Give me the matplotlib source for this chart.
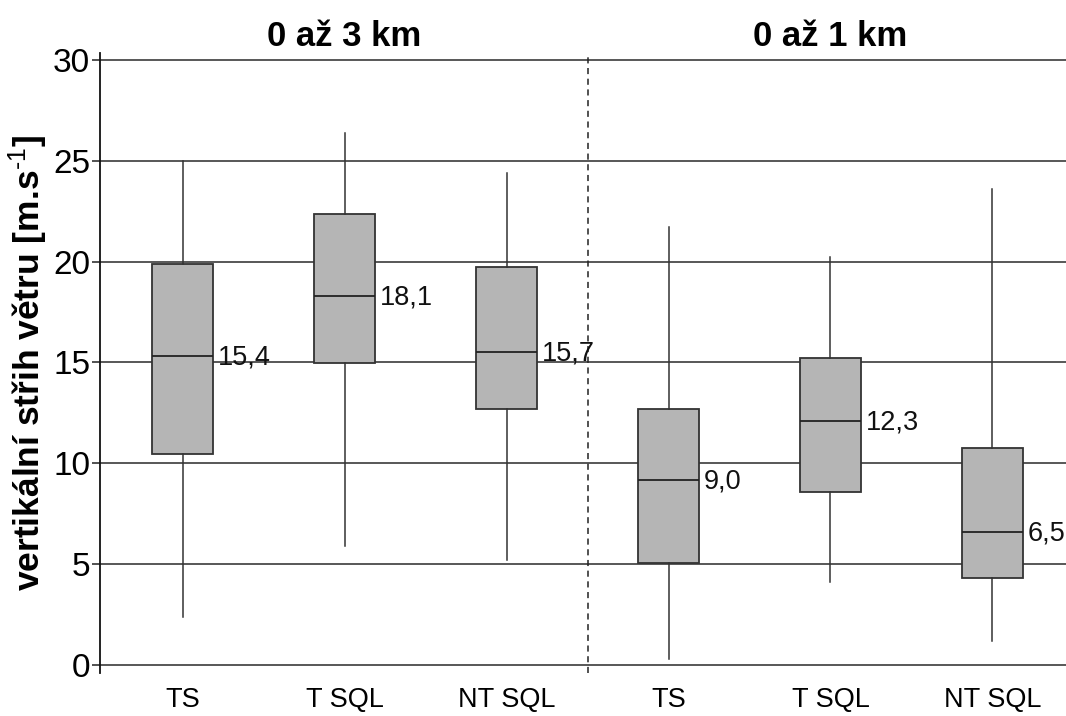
import matplotlib
matplotlib.use("Agg")
import matplotlib.pyplot as plt

# ---- data ----
categories = ["TS", "T SQL", "NT SQL", "TS", "T SQL", "NT SQL"]
whisker_low = [2.4, 5.9, 5.2, 0.3, 4.1, 1.2]
q1 = [10.45, 14.97, 12.7, 5.04, 8.6, 4.3]
median = [15.3, 18.3, 15.5, 9.16, 12.1, 6.58]
q3 = [19.9, 22.35, 19.75, 12.68, 15.2, 10.77]
whisker_high = [25.0, 26.4, 24.4, 21.7, 20.25, 23.6]
median_labels = ["15,4", "18,1", "15,7", "9,0", "12,3", "6,5"]
group_titles = ["0 až 3 km", "0 až 1 km"]
yticks = [0, 5, 10, 15, 20, 25, 30]

plt.rcParams['font.family'] = ['Liberation Sans', 'DejaVu Sans']
plt.rcParams['mathtext.fontset'] = 'custom'
plt.rcParams['mathtext.rm'] = 'Liberation Sans'
plt.rcParams['mathtext.bf'] = 'Liberation Sans:bold'
plt.rcParams['mathtext.default'] = 'bf'

fig = plt.figure(figsize=(10.66, 7.16), dpi=100)
ax = fig.add_axes([100/1066, 43/716, 966/1066, 620/716])

positions = list(range(len(categories)))
stats = []
for i in positions:
    stats.append(dict(whislo=whisker_low[i], q1=q1[i], med=median[i],
                      q3=q3[i], whishi=whisker_high[i], fliers=[]))

# grid lines
for v in yticks:
    ax.axhline(v, color='#2a2a2a', lw=1.1, zorder=1)

ax.bxp(stats, positions=positions, widths=0.38, patch_artist=True,
       showcaps=False, showfliers=False,
       boxprops=dict(facecolor='#b5b5b5', edgecolor='#333333', lw=1.3),
       medianprops=dict(color='#222222', lw=1.3),
       whiskerprops=dict(color='#333333', lw=1.1),
       zorder=3)

for i in positions:
    ax.annotate(median_labels[i], xy=(i + 0.19, median[i]), xytext=(3, -1),
                textcoords='offset points', ha='left', va='center',
                fontsize=19.5, color='#111111', zorder=4)

ax.axvline(2.5, color='#222222', lw=1.1, ls=(0, (4, 3)), zorder=2)

ax.set_xlim(-0.51, 5.454)
ax.set_ylim(-0.4, 30.35)
ax.set_xticks(positions)
ax.set_xticklabels(categories, fontsize=19.5)
ax.tick_params(axis='x', length=0, pad=10)
ax.set_yticks(yticks)
ax.set_yticklabels([str(v) for v in yticks], fontsize=24)
ax.tick_params(axis='y', length=6, width=1.1, pad=1, color='#222222')

for s in ['top', 'right', 'bottom']:
    ax.spines[s].set_visible(False)
ax.spines['left'].set_linewidth(1.3)
ax.spines['left'].set_color('#111111')

ax.set_ylabel("vertikální střih větru [m.s$^{\\text{-1}}$]", fontsize=25.5,
              fontweight='bold', labelpad=2)

for k, title in enumerate(group_titles):
    ax.text(1 + 3*k, 1.0, title, transform=ax.get_xaxis_transform(),
            ha='center', va='bottom', fontsize=25, fontweight='bold')

fig.savefig("out.png", dpi=100)
